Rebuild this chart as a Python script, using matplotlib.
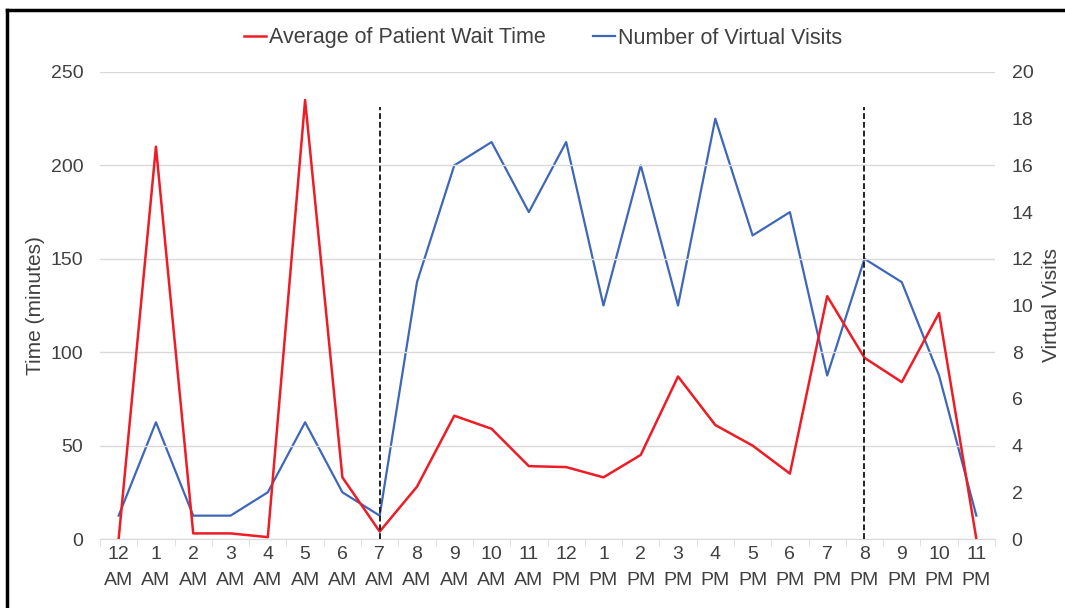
import matplotlib
matplotlib.use("Agg")
import matplotlib.pyplot as plt
from matplotlib.lines import Line2D

hours = ["12", "1", "2", "3", "4", "5", "6", "7", "8", "9", "10", "11",
         "12", "1", "2", "3", "4", "5", "6", "7", "8", "9", "10", "11"]
periods = ["AM"] * 12 + ["PM"] * 12
wait_time = [0, 210, 3, 3, 1, 235, 33, 4, 28, 66, 59, 39,
             38.5, 33, 45, 87, 61, 50, 35, 130, 97, 84, 121, 0]
visits = [1, 5, 1, 1, 2, 5, 2, 1, 11, 16, 17, 14,
          17, 10, 16, 10, 18, 13, 14, 7, 12, 11, 7, 1]
marker_hours = [7, 20]

plt.rcParams['font.family'] = ['Liberation Sans', 'DejaVu Sans']
txt = '#404040'
red = '#EE1C25'
blue = '#3F67B8'

fig = plt.figure(figsize=(10.65, 6.08), dpi=100)
ax = fig.add_axes([100/1065, 1-539/608, 895/1065, 467/608])
ax2 = ax.twinx()

x = list(range(len(hours)))
labels = [f"{h}\n{p}" for h, p in zip(hours, periods)]

ax.set_ylim(0, 250)
ax.set_yticks([0, 50, 100, 150, 200, 250])
ax2.set_ylim(0, 20)
ax2.set_yticks(range(0, 21, 2))
ax.set_xlim(-0.5, 23.5)

ax.grid(axis='y', color='#D9D9D9', lw=1)
ax.set_axisbelow(True)
for a in (ax, ax2):
    for s in a.spines.values():
        s.set_visible(False)
ax.spines['bottom'].set_visible(True)
ax.spines['bottom'].set_color('#D9D9D9')

ax.set_xticks(x)
ax.set_xticklabels(labels, fontsize=14, color=txt, linespacing=1.7)
ax.tick_params(axis='x', length=0, pad=5)
ax.set_xticks([i - 0.5 for i in range(25)], minor=True)
ax.tick_params(axis='x', which='minor', length=5, color='#D9D9D9')
ax.tick_params(axis='y', length=0, labelsize=14, labelcolor=txt, pad=12)
ax2.tick_params(axis='y', length=0, labelsize=14, labelcolor=txt, pad=12)

ax.set_ylabel("Time (minutes)", fontsize=15, color=txt, labelpad=4)
ax2.set_ylabel("Virtual Visits", fontsize=15, color=txt, labelpad=6)

for m in marker_hours:
    ax.plot([m, m], [0, 231], color='#222222', lw=1.4, ls=(0, (3, 1.5)), zorder=4)

l1, = ax.plot(x, wait_time, color=red, lw=1.8, zorder=3, label="Average of Patient Wait Time")
ax.set_zorder(ax2.get_zorder() + 1)
ax.patch.set_visible(False)
l2, = ax2.plot(x, visits, color=blue, lw=1.6, label="Number of Virtual Visits")

fig.legend(handles=[l1, l2], loc='center', bbox_to_anchor=(543/1065, 1-38/608), ncol=2,
           frameon=False, fontsize=15.5, handlelength=1.0, handletextpad=0.15,
           columnspacing=2.2, labelcolor=txt)

fig.add_artist(Line2D([7/1065, 7/1065], [0, 1-10/608], color='black', lw=2.5,
                      transform=fig.transFigure))
fig.add_artist(Line2D([7/1065, 1], [1-10/608, 1-10/608], color='black', lw=2.5,
                      transform=fig.transFigure))

fig.savefig("out.png", dpi=100)
